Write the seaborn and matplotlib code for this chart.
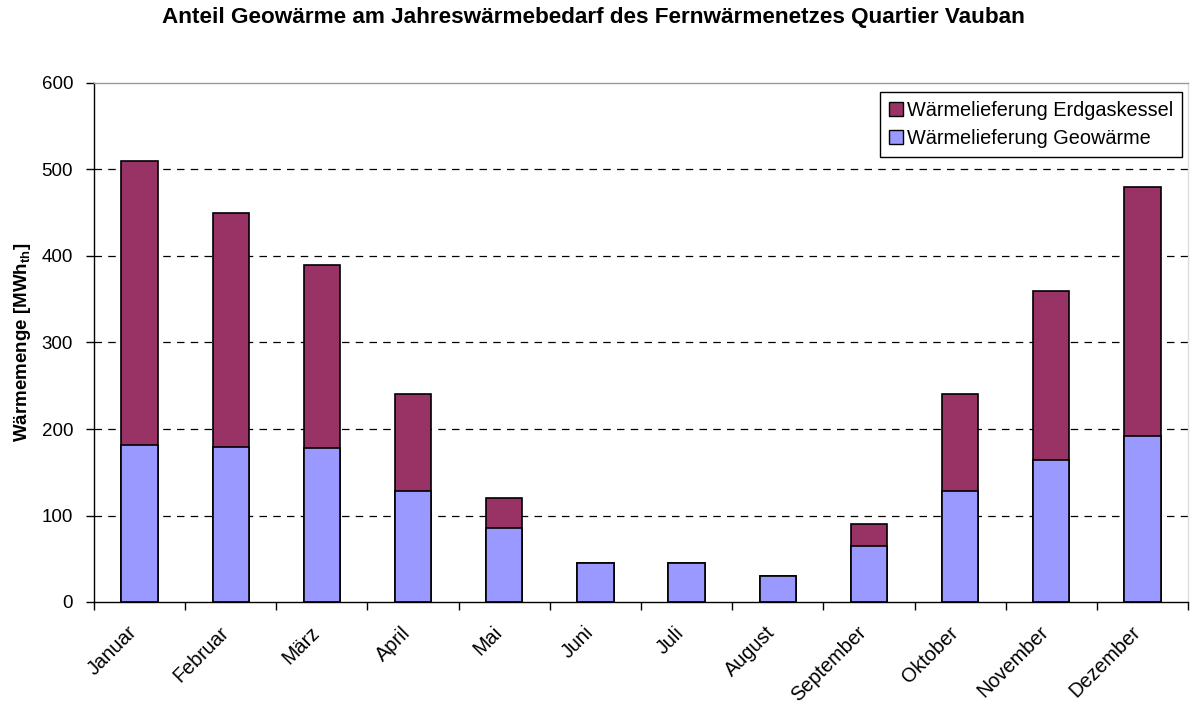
import numpy as np
import pandas as pd
import matplotlib
matplotlib.use("Agg")
import matplotlib.pyplot as plt
import matplotlib.transforms as mtransforms
import seaborn as sns
from matplotlib.patches import Patch

months = ["Januar", "Februar", "März", "April", "Mai", "Juni", "Juli",
          "August", "September", "Oktober", "November", "Dezember"]
geo = [181, 179, 178, 128, 86, 45, 45, 30, 65, 128, 164, 192]
erdgas = [329, 271, 212, 112, 34, 0, 0, 0, 25, 112, 196, 288]

col_geo = "#9999FF"
col_gas = "#993366"

sns.set_style("white")
plt.rcParams['font.family'] = ['Liberation Sans', 'DejaVu Sans']
plt.rcParams['mathtext.fontset'] = 'custom'
plt.rcParams['mathtext.rm'] = 'Liberation Sans'
plt.rcParams['mathtext.bf'] = 'Liberation Sans:bold'
plt.rcParams['text.color'] = 'black'
plt.rcParams['axes.labelcolor'] = 'black'
plt.rcParams['xtick.color'] = 'black'
plt.rcParams['ytick.color'] = 'black'

df = pd.DataFrame({"Monat": months, "Geo": geo, "Gas": erdgas})
df["Gesamt"] = df["Geo"] + df["Gas"]

fig = plt.figure(figsize=(11.94, 7.06), dpi=100)
ax = fig.add_axes([94 / 1194, 104 / 706, 1094 / 1194, 519 / 706])

# stacked: total first (gas colour), geo on top of it
sns.barplot(data=df, x="Monat", y="Gesamt", color=col_gas, saturation=1,
            width=0.4, edgecolor="black", linewidth=1.2, ax=ax)
sns.barplot(data=df, x="Monat", y="Geo", color=col_geo, saturation=1,
            width=0.4, edgecolor="black", linewidth=1.2, ax=ax)

ax.set_ylim(0, 600)
ax.set_xlim(-0.5, 11.5)
ax.set_yticks(range(0, 601, 100))
ax.tick_params(axis="y", labelsize=13.5, length=6, width=1, direction="out", left=True, pad=9)
ax.set_xticks(range(12))
ax.set_xticklabels(months, rotation=45, ha="right", rotation_mode="anchor", fontsize=14.3)
ax.tick_params(axis="x", which="major", length=0, pad=15)
ax.set_xticks(np.arange(-0.5, 12, 1), minor=True)
ax.tick_params(axis="x", which="minor", length=6, width=1, direction="out", bottom=True)
shift = mtransforms.ScaledTranslation(-0.12, 0, fig.dpi_scale_trans)
for lab in ax.get_xticklabels():
    lab.set_transform(lab.get_transform() + shift)

for yv in range(100, 600, 100):
    ax.axhline(yv, color="black", linestyle=(0, (6, 5)), linewidth=0.9, zorder=0)
ax.set_axisbelow(True)

ax.spines["left"].set_color("black")
ax.spines["bottom"].set_color("black")
ax.spines["top"].set_color("#999999")
ax.spines["right"].set_color("#dddddd")
for s in ax.spines.values():
    s.set_linewidth(1)

ax.set_xlabel("")
ax.set_ylabel(r"Wärmemenge [MWh$_{\mathbf{th}}$]", fontsize=13.5, fontweight="bold", labelpad=6)

handles = [Patch(facecolor=col_gas, edgecolor="black", label="Wärmelieferung Erdgaskessel"),
           Patch(facecolor=col_geo, edgecolor="black", label="Wärmelieferung Geowärme")]
leg = ax.legend(handles=handles, loc="upper right", bbox_to_anchor=(0.9945, 0.983),
                fontsize=14.3, frameon=True, fancybox=False, framealpha=1,
                handlelength=0.7, handleheight=0.7, handletextpad=0.2,
                borderpad=0.45, labelspacing=0.45, borderaxespad=0)
leg.get_frame().set_edgecolor("black")
leg.get_frame().set_linewidth(1)

fig.text(0.497, 1 - 18 / 706, "Anteil Geowärme am Jahreswärmebedarf des Fernwärmenetzes Quartier Vauban",
         ha="center", va="center", fontsize=16.2, fontweight="bold")

fig.savefig("out.png", dpi=100, facecolor="white")
